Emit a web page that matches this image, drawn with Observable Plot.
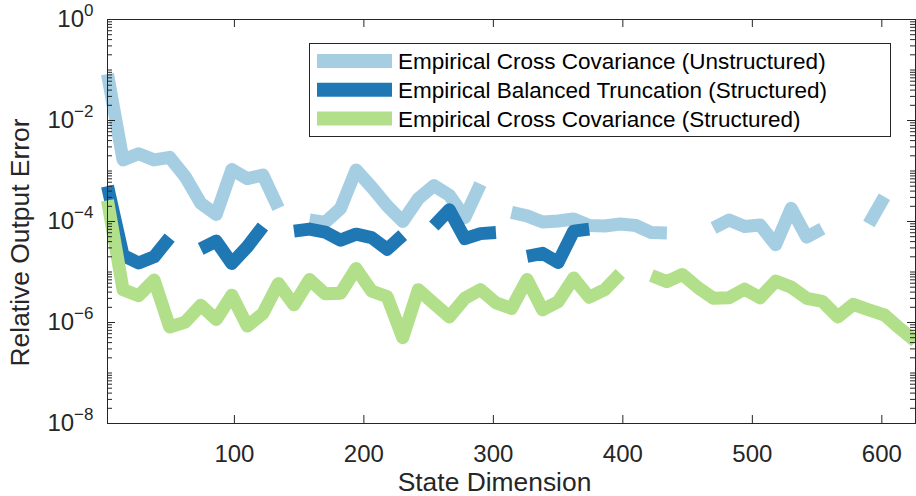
<!DOCTYPE html>
<html>
<head>
<meta charset="utf-8">
<script src="https://cdn.jsdelivr.net/npm/d3@7"></script>
<script src="https://cdn.jsdelivr.net/npm/@observablehq/plot@0.6"></script>
<style>
  html, body { margin: 0; padding: 0; background: #fff; }
</style>
</head>
<body>
<div id="chart"></div>
<script>
// State dimension grid
const xs = [2,14,26,38,50,62,74,86,98,110,122,134,146,158,170,182,194,206,218,230,242,254,266,278,290,302,314,326,338,350,362,374,386,398,410,422,434,446,458,470,482,494,506,518,530,542,554,566,578,590,602,614,626];

// Empirical Cross Covariance (Unstructured)
const ecUnstructured = [8.32e-2,1.66e-3,2.19e-3,1.66e-3,1.86e-3,7.76e-4,2.29e-4,1.38e-4,1.07e-3,7.08e-4,8.32e-4,1.82e-4,null,1.07e-4,9.55e-5,1.82e-4,1.05e-3,4.79e-4,2.04e-4,1.0e-4,2.82e-4,5.13e-4,3.31e-4,1.20e-4,5.50e-4,null,1.51e-4,1.29e-4,9.77e-5,1.02e-4,1.12e-4,8.32e-5,8.13e-5,8.91e-5,8.32e-5,6.03e-5,5.89e-5,null,null,7.41e-5,1.07e-4,7.94e-5,8.51e-5,3.47e-5,1.82e-4,4.90e-5,7.24e-5,null,null,8.91e-5,3.09e-4,null,null];

// Empirical Balanced Truncation (Structured)
const ebtStructured = [5.01e-4,2.14e-5,1.51e-5,2.0e-5,4.79e-5,null,2.88e-5,4.07e-5,1.48e-5,3.16e-5,7.94e-5,null,6.46e-5,7.08e-5,6.17e-5,4.27e-5,5.62e-5,4.79e-5,2.82e-5,5.37e-5,null,8.13e-5,1.70e-4,4.57e-5,5.75e-5,6.03e-5,null,2.04e-5,2.34e-5,1.55e-5,6.46e-5,7.08e-5,null,null,null,null,null,null,null,null,null,null,null,null,null,null,null,null,null,null,null,null,null];

// Empirical Cross Covariance (Structured)
const ecStructured = [2.63e-4,4.47e-6,3.39e-6,6.92e-6,8.13e-7,1.02e-6,2.19e-6,1.15e-6,3.47e-6,8.51e-7,1.51e-6,5.89e-6,2.24e-6,7.08e-6,3.72e-6,3.80e-6,1.17e-5,4.17e-6,3.24e-6,5.01e-7,4.47e-6,2.40e-6,1.29e-6,3.02e-6,4.47e-6,2.45e-6,1.91e-6,7.08e-6,1.78e-6,2.57e-6,7.59e-6,3.16e-6,4.47e-6,9.33e-6,null,8.51e-6,6.46e-6,8.91e-6,4.90e-6,3.02e-6,3.09e-6,4.57e-6,3.09e-6,6.61e-6,5.01e-6,3.02e-6,2.63e-6,1.29e-6,2.29e-6,1.78e-6,1.41e-6,7.59e-7,4.27e-7];

const seriesNames = [
  "Empirical Cross Covariance (Unstructured)",
  "Empirical Balanced Truncation (Structured)",
  "Empirical Cross Covariance (Structured)"
];
const seriesColors = ["#a6cee3", "#1f78b4", "#b2df8a"];
const seriesValues = [ecUnstructured, ebtStructured, ecStructured];

const xTicks = [100, 200, 300, 400, 500, 600];
const yMajor = [1e-8, 1e-6, 1e-4, 1e-2, 1e0];
const yExponents = ["−8", "−6", "−4", "−2", "0"];
const yMinor = [];
for (let e = -8; e < 0; e++) for (let m = 2; m <= 10; m++) { if (!(m === 10 && (e + 1) % 2 === 0)) yMinor.push(m * Math.pow(10, e)); }

const rows = seriesValues.map((vals, i) => xs.map((x, j) => ({x, y: vals[j], s: i})));

const W = 916, H = 496, ML = 107, MR = 1, MT = 19, MB = 73;
const FW = W - ML - MR, FH = H - MT - MB;
const ink = "#262626";
const font = "'Liberation Sans', Arial, Helvetica, sans-serif";

const marks = [];
rows.forEach((r, i) => {
  marks.push(Plot.line(r, {x: "x", y: "y", stroke: seriesColors[i], strokeWidth: 13, strokeLinejoin: "round", strokeLinecap: "butt"}));
});
marks.push(
  Plot.frame({stroke: ink, strokeWidth: 1}),
  Plot.ruleX(xTicks, {x: d => d, stroke: ink, insetTop: FH - 8}),
  Plot.ruleX(xTicks, {x: d => d, stroke: ink, insetBottom: FH - 8}),
  Plot.ruleY(yMajor, {y: d => d, stroke: ink, insetRight: FW - 8}),
  Plot.ruleY(yMajor, {y: d => d, stroke: ink, insetLeft: FW - 8}),
  Plot.ruleY(yMinor, {y: d => d, stroke: ink, insetRight: FW - 5}),
  Plot.ruleY(yMinor, {y: d => d, stroke: ink, insetLeft: FW - 5}),
  Plot.axisX({ticks: xTicks, tickSize: 0, tickPadding: 21, label: null, fill: ink}),
  Plot.axisY({ticks: yMajor, tickSize: 0, tickPadding: 14, label: null, tickFormat: d => String(d), fill: ink}),
  Plot.text(["State Dimension"], {frameAnchor: "bottom", textAnchor: "middle", lineAnchor: "middle", dy: 59, dx: -17, fontSize: 26.4, fill: ink}),
  Plot.text(["Relative Output Error"], {frameAnchor: "left", textAnchor: "middle", lineAnchor: "middle", rotate: -90, dx: -87, dy: 21, fontSize: 26.4, fill: ink})
);

const chart = Plot.plot({
  width: W, height: H,
  marginLeft: ML, marginRight: MR, marginTop: MT, marginBottom: MB,
  style: {fontFamily: font, fontSize: "24px", color: ink, background: "#fff", overflow: "visible"},
  x: {domain: [2, 626]},
  y: {type: "log", domain: [1e-8, 1]},
  marks
});

// superscript exponents on y tick labels
const ylabels = chart.querySelectorAll('g[aria-label="y-axis tick label"] text');
ylabels.forEach(t => {
  const v = +t.textContent;
  const idx = yMajor.findIndex(m => Math.abs(Math.log10(m) - Math.log10(v)) < 1e-6);
  const exp = idx >= 0 ? yExponents[idx] : "";
  t.textContent = "";
  const sel = d3.select(t);
  sel.append("tspan").text("10");
  sel.append("tspan").attr("dy", -11).attr("font-size", 17).text(exp);
});

// legend inside the axes
const svg = d3.select(chart);
const lg = svg.append("g").attr("font-family", font).attr("text-anchor", "start");
lg.append("rect").attr("x", 309.5).attr("y", 43.5).attr("width", 581).attr("height", 93)
  .attr("fill", "#fff").attr("stroke", ink).attr("stroke-width", 1);
seriesNames.forEach((name, i) => {
  const cy = 61 + i * 28.7;
  lg.append("line").attr("x1", 317).attr("x2", 392).attr("y1", cy).attr("y2", cy)
    .attr("stroke", seriesColors[i]).attr("stroke-width", 14);
  lg.append("text").attr("x", 398).attr("y", cy).attr("dy", "0.36em").attr("text-anchor", "start")
    .attr("font-size", 22.5).attr("fill", "#000").text(name);
});

document.getElementById("chart").appendChild(chart);
</script>
</body>
</html>
